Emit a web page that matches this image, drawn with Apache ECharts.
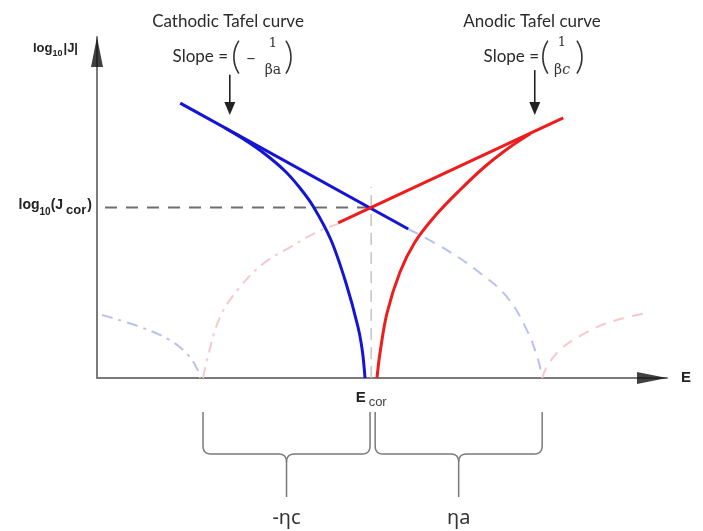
<!DOCTYPE html>
<html>
<head>
<meta charset="utf-8">
<script src="https://cdn.jsdelivr.net/npm/echarts@6/dist/echarts.min.js"></script>
<style>html,body{margin:0;padding:0;background:#fff;}#chart{width:703px;height:531px;}</style>
</head>
<body>
<div id="chart"></div>
<script>
// ---- data (E in arbitrary potential units, L = log10|J| in arbitrary units) ----
const Ecor = 4.81;
const Lcor = 5.0;
const cathodicTafel = [[1.46, 8.06], [5.46, 4.37]];
const anodicTafel = [[4.23, 4.55], [8.18, 7.63]];
const cathodicCurve = [[2.246, 7.331], [2.596, 6.979], [2.947, 6.569], [3.298, 6.070], [3.561, 5.572], [3.789, 5.044], [4.105, 4.047], [4.368, 2.786], [4.579, 1.496], [4.658, 0.762], [4.702, 0]];
const anodicCurve = [[4.912, 0], [4.965, 0.733], [5.088, 1.906], [5.316, 3.109], [5.579, 3.988], [5.930, 4.751], [6.368, 5.513], [6.807, 6.202], [7.246, 6.774], [7.596, 7.155]];
const cathodicExtRight = [[5.46, 4.37], [6.14, 3.75], [6.72, 3.08], [7.19, 2.38], [7.54, 1.41], [7.74, 0.53], [7.81, 0]];
const anodicExtRight = [[7.81, 0], [7.90, 0.35], [8.12, 0.82], [8.47, 1.23], [9.00, 1.64], [9.65, 1.91]];
const cathodicLeft = [[0.09, 1.85], [0.75, 1.50], [1.28, 1.11], [1.60, 0.67], [1.75, 0.29], [1.81, 0]];
const anodicLeft = [[1.86, 0], [1.93, 0.53], [2.16, 1.79], [2.51, 2.67], [2.93, 3.37], [3.39, 3.84], [3.86, 4.28], [4.23, 4.52]];
const corLineH = [[0.14, Lcor], [Ecor, Lcor]];
const corLineV = [[Ecor, 0], [Ecor, 5.6]];
const braceRanges = [[1.86, 4.79], [4.88, 7.81]];
const braceLabels = ['-ηc', 'ηa'];
const slopeArrows = [[2.33, 8.89, 7.71], [7.68, 9.03, 7.71]];
const xTickValues = [Ecor];
const yTickValues = [Lcor];

const chart = echarts.init(document.getElementById('chart'));

function lineSeries(data, color, width, type, z, smooth) {
  return {
    type: 'line', data: data, showSymbol: false, smooth: smooth === undefined ? 0.4 : smooth, z: z || 2,
    lineStyle: { color: color, width: width, type: type || 'solid' },
    silent: true, animation: false
  };
}

function quad(p0, p1, p2, n) {
  const pts = [];
  for (let i = 0; i <= n; i++) {
    const t = i / n;
    pts.push([(1-t)*(1-t)*p0[0] + 2*(1-t)*t*p1[0] + t*t*p2[0], (1-t)*(1-t)*p0[1] + 2*(1-t)*t*p1[1] + t*t*p2[1]]);
  }
  return pts;
}

const option = {
  animation: false,
  backgroundColor: '#fff',
  grid: { left: 97, right: 36, top: 37, bottom: 153 },
  xAxis: {
    type: 'value', min: 0, max: 10,
    splitLine: { show: false },
    axisTick: { show: false },
    axisLine: { show: true, lineStyle: { color: '#7a7a7a', width: 2 } },
    name: 'E', nameLocation: 'end', nameGap: 14,
    nameTextStyle: { fontFamily: 'Liberation Sans', fontWeight: 'bold', fontSize: 15, color: '#222' },
    axisLabel: {
      customValues: xTickValues, margin: 12,
      formatter: function () { return '{b|E}{s|cor}'; },
      rich: {
        b: { fontFamily: 'Liberation Sans', fontWeight: 'bold', fontSize: 15, color: '#222', lineHeight: 19, verticalAlign: 'top' },
        s: { fontFamily: 'Liberation Sans', fontSize: 13, color: '#444', lineHeight: 19, verticalAlign: 'bottom', padding: [5, 0, 0, 3] }
      }
    }
  },
  yAxis: {
    type: 'value', min: 0, max: 10,
    splitLine: { show: false },
    axisTick: { show: false },
    axisLine: { show: true, lineStyle: { color: '#7a7a7a', width: 2 } },
    name: '{b|log}{s|10}{b||J|}', nameLocation: 'end', nameGap: -13,
    nameTextStyle: {
      align: 'right', verticalAlign: 'middle', padding: [0, 19, 0, 0],
      rich: {
        b: { fontFamily: 'Liberation Sans', fontWeight: 'bold', fontSize: 13, color: '#222', lineHeight: 17, verticalAlign: 'top' },
        s: { fontFamily: 'Liberation Sans', fontWeight: 'bold', fontSize: 9, color: '#222', lineHeight: 17, verticalAlign: 'bottom', padding: [5, 1, 0, 0] }
      }
    },
    axisLabel: {
      customValues: yTickValues, margin: 5,
      formatter: function () { return '{b|log}{s|10}{b|(J}{c|cor}{b|)}'; },
      rich: {
        b: { fontFamily: 'Liberation Sans', fontWeight: 'bold', fontSize: 14, color: '#222', lineHeight: 19, verticalAlign: 'top' },
        s: { fontFamily: 'Liberation Sans', fontWeight: 'bold', fontSize: 10, color: '#222', lineHeight: 19, verticalAlign: 'bottom', padding: [5, 0, 0, 0] },
        c: { fontFamily: 'Liberation Sans', fontWeight: 'bold', fontSize: 13, color: '#222', lineHeight: 19, verticalAlign: 'bottom', padding: [5, 1, 0, 3] }
      }
    }
  },
  graphic: [
    { type: 'text', x: 228, y: 22, style: { text: 'Cathodic Tafel curve', font: '17px Lato', fill: '#2a2a2a', align: 'center', verticalAlign: 'middle' } },
    { type: 'text', x: 228, y: 57, style: { text: 'Slope =', font: '17px Lato', fill: '#2a2a2a', align: 'right', verticalAlign: 'middle' } },
    { type: 'text', x: 236, y: 57, style: { text: '(', font: '300 38px Lato', fill: '#333', align: 'center', verticalAlign: 'middle' } },
    { type: 'text', x: 251, y: 58, style: { text: '–', font: '18px Lato', fill: '#333', align: 'center', verticalAlign: 'middle' } },
    { type: 'text', x: 273, y: 44, style: { text: '1', font: '13px "DejaVu Serif"', fill: '#333', align: 'center', verticalAlign: 'middle' } },
    { type: 'text', x: 273, y: 70, style: { text: 'βa', font: '14px "DejaVu Serif"', fill: '#333', align: 'center', verticalAlign: 'middle' } },
    { type: 'text', x: 289, y: 57, style: { text: ')', font: '300 38px Lato', fill: '#333', align: 'center', verticalAlign: 'middle' } },

    { type: 'text', x: 532, y: 22, style: { text: 'Anodic Tafel curve', font: '17px Lato', fill: '#2a2a2a', align: 'center', verticalAlign: 'middle' } },
    { type: 'text', x: 539, y: 57, style: { text: 'Slope =', font: '17px Lato', fill: '#2a2a2a', align: 'right', verticalAlign: 'middle' } },
    { type: 'text', x: 545, y: 57, style: { text: '(', font: '300 38px Lato', fill: '#333', align: 'center', verticalAlign: 'middle' } },
    { type: 'text', x: 562, y: 43, style: { text: '1', font: '13px "DejaVu Serif"', fill: '#333', align: 'center', verticalAlign: 'middle' } },
    { type: 'text', x: 562, y: 70, style: { text: '{b|β}{i|c}', fill: '#333', align: 'center', verticalAlign: 'middle',
        rich: { b: { font: '14px "DejaVu Serif"', fill: '#333' }, i: { font: 'italic 14px "DejaVu Serif"', fill: '#333' } } } },
    { type: 'text', x: 580, y: 57, style: { text: ')', font: '300 38px Lato', fill: '#333', align: 'center', verticalAlign: 'middle' } }
  ],
  series: [
    lineSeries(corLineH, '#6e6e6e', 2, [12, 9], 1, false),
    lineSeries(corLineV, '#c4c4c4', 1.5, [12, 7], 1, false),
    lineSeries(cathodicLeft, '#b9c0f2', 2, [11, 6, 3, 6], 1),
    lineSeries(anodicLeft, '#f7c9cd', 2, [11, 6, 3, 6], 1),
    lineSeries(cathodicExtRight, '#b9c0f2', 2, [11, 8], 1),
    lineSeries(anodicExtRight, '#f7c9cd', 2, [11, 8], 1),
    lineSeries(cathodicTafel, '#1414d4', 3, 'solid', 3, false),
    lineSeries(cathodicCurve, '#1414d4', 3, 'solid', 3, 0.3),
    lineSeries(anodicTafel, '#ee1c1c', 3, 'solid', 3, false),
    lineSeries(anodicCurve, '#ee1c1c', 3, 'solid', 3, 0.35),
    {
      type: 'scatter', data: [[10, 0]], symbol: 'triangle', symbolSize: [12, 30], symbolRotate: -90,
      symbolOffset: [-15, 0], itemStyle: { color: '#111' }, silent: true, z: 5
    },
    {
      type: 'scatter', data: [[0, 10]], symbol: 'triangle', symbolSize: [12, 30],
      symbolOffset: [0, 15], itemStyle: { color: '#111' }, silent: true, z: 5
    },
    {
      type: 'custom', data: slopeArrows, silent: true, z: 5,
      encode: { x: 0, y: 1 },
      renderItem: function (params, api) {
        const top = api.coord([api.value(0), api.value(1)]);
        const bot = api.coord([api.value(0), api.value(2)]);
        return {
          type: 'group', children: [
            { type: 'line', shape: { x1: top[0], y1: top[1], x2: bot[0], y2: bot[1] - 8 }, style: { stroke: '#222', lineWidth: 1.6 } },
            { type: 'polygon', shape: { points: [[bot[0] - 5.5, bot[1] - 13], [bot[0] + 5.5, bot[1] - 13], [bot[0], bot[1]]] }, style: { fill: '#222' } }
          ]
        };
      }
    },
    {
      type: 'custom', data: braceRanges, silent: true, z: 5,
      encode: { x: [0, 1] },
      renderItem: function (params, api) {
        const a = api.coord([api.value(0), 0]);
        const b = api.coord([api.value(1), 0]);
        const y0 = a[1] + 34, yh = a[1] + 76, yt = a[1] + 119, r = 8;
        const x1 = a[0], x2 = b[0], xm = (x1 + x2) / 2;
        let left = [[x1, y0], [x1, yh - r]].concat(quad([x1, yh - r], [x1, yh], [x1 + r, yh], 6))
          .concat([[xm - r, yh]]).concat(quad([xm - r, yh], [xm, yh], [xm, yh + r], 6)).concat([[xm, yt]]);
        let right = [[x2, y0], [x2, yh - r]].concat(quad([x2, yh - r], [x2, yh], [x2 - r, yh], 6))
          .concat([[xm + r, yh]]).concat(quad([xm + r, yh], [xm, yh], [xm, yh + r], 6));
        return {
          type: 'group', children: [
            { type: 'polyline', shape: { points: left }, style: { stroke: '#7a7a7a', lineWidth: 1.5, fill: null } },
            { type: 'polyline', shape: { points: right }, style: { stroke: '#7a7a7a', lineWidth: 1.5, fill: null } },
            { type: 'text', style: { text: braceLabels[params.dataIndex], x: xm, y: a[1] + 140, align: 'center', verticalAlign: 'middle', font: '20px "Noto Sans"', fill: '#333' } }
          ]
        };
      }
    }
  ]
};
chart.setOption(option);
</script>
</body>
</html>
